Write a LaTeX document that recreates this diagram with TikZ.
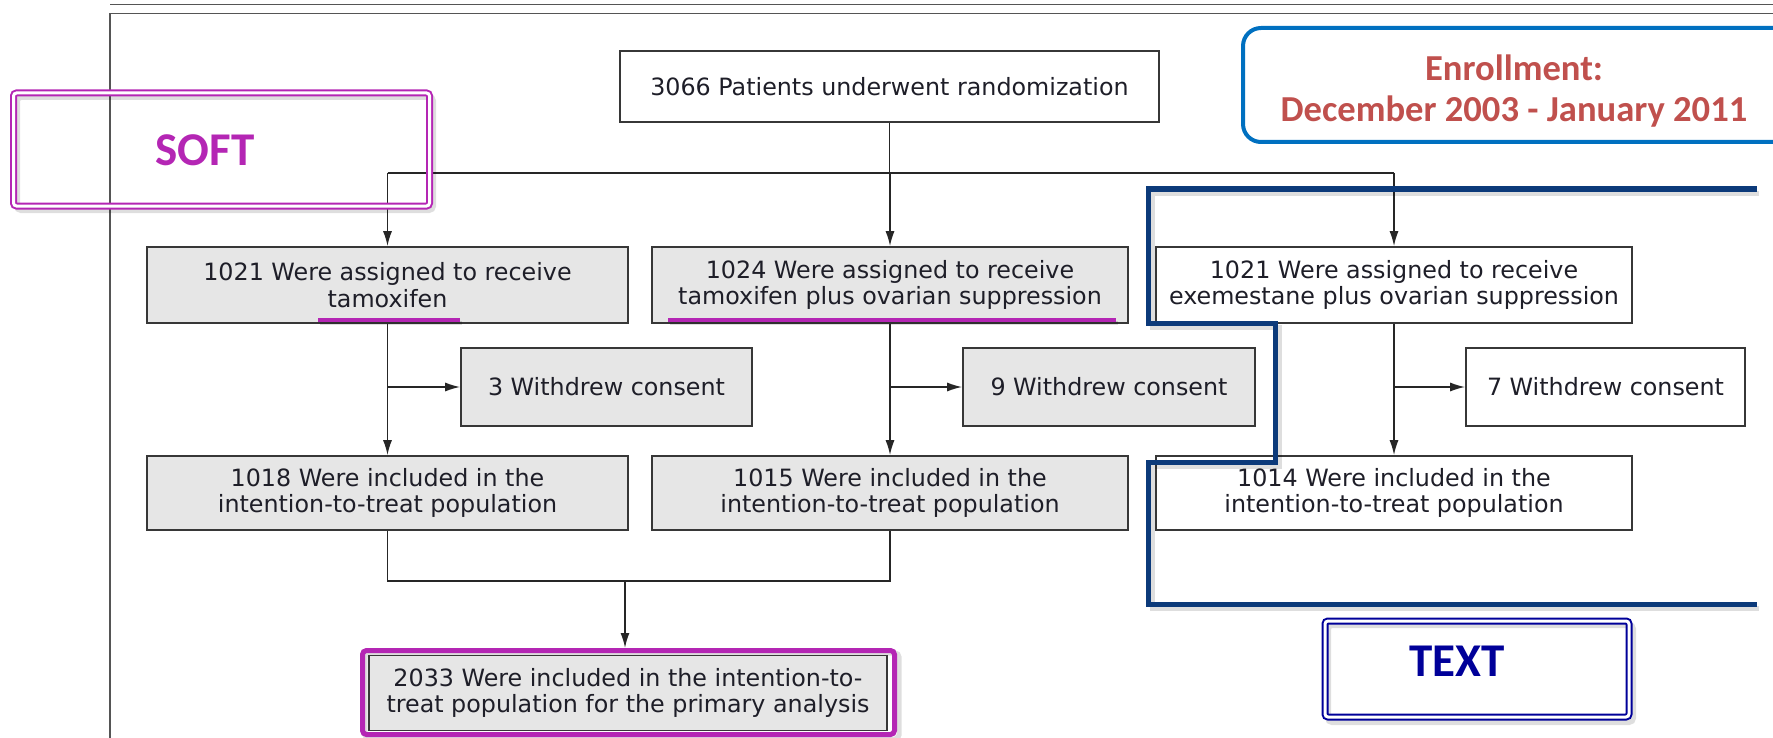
\documentclass[tikz,border=0pt]{standalone}
\usepackage{fontspec}
\setmainfont{DejaVu Sans}
\newfontfamily\calib{Carlito}
\usetikzlibrary{arrows.meta,calc}
\definecolor{boxgray}{RGB}{230,230,230}
\definecolor{boxline}{RGB}{55,55,55}
\definecolor{txt}{RGB}{30,30,40}
\definecolor{softc}{RGB}{180,38,180}
\definecolor{enrred}{RGB}{192,80,77}
\definecolor{enrblue}{RGB}{0,112,192}
\definecolor{navy}{RGB}{12,58,122}
\definecolor{textblue}{RGB}{0,0,153}
\definecolor{framec}{RGB}{85,85,85}
\begin{document}
\begin{tikzpicture}[x=0.5pt,y=-0.5pt,
  box/.style={draw=boxline, line width=0.8pt, align=center, inner sep=0pt, text=txt,
    font=\fontsize{11.9}{13.4}\selectfont, minimum height=38pt},
  gbox/.style={box, fill=boxgray},
  conn/.style={draw=black!85, line width=0.8pt},
  arr/.style={conn, -{Latex[length=7.5pt,width=4.5pt]}},
  uline/.style={draw=softc, line width=2pt},
  shad/.style={draw=black, opacity=0.13},
  bigsoft/.style={font=\calib\bfseries\fontsize{23.5}{26}\selectfont},
  dblbox/.style={double=white, double distance=1.5pt, line width=1pt, rounded corners=1.5pt, inner sep=0pt}
]
\useasboundingbox (0,0) rectangle (1773,738);
\clip (0,0) rectangle (1773,738);
% frame
\draw[framec, line width=0.8pt] (110,4.5) -- (1773,4.5);
\draw[framec, line width=0.8pt] (1773,13.5) -- (110,13.5) -- (110,738);

% boxes
\node[box, minimum width=269.5pt, minimum height=35.5pt] (top) at (889.5,86.5) {3066 Patients underwent randomization};
\node[gbox, minimum width=240.5pt] (A) at (387.5,285) {1021 Were assigned to receive\\tamoxifen};
\node[gbox, minimum width=238pt] (B) at (890,285) {1024 Were assigned to receive\\tamoxifen plus ovarian suppression};
\node[box, fill=white, minimum width=238pt] (C) at (1394,285) {1021 Were assigned to receive\\exemestane plus ovarian suppression};
\node[gbox, minimum width=145.5pt, minimum height=39pt] (WA) at (606.5,387) {3 Withdrew consent};
\node[gbox, minimum width=146pt, minimum height=39pt] (WB) at (1109,387) {9 Withdrew consent};
\node[box, fill=white, minimum width=139.5pt, minimum height=39pt] (WC) at (1605.5,387) {7 Withdrew consent};
\node[gbox, minimum width=240.5pt, minimum height=37pt] (IA) at (387.5,493) {1018 Were included in the\\intention-to-treat population};
\node[gbox, minimum width=238pt, minimum height=37pt] (IB) at (890,493) {1015 Were included in the\\intention-to-treat population};
\node[box, fill=white, minimum width=238pt, minimum height=37pt] (IC) at (1394,493) {1014 Were included in the\\intention-to-treat population};
\draw[shad, line width=2.5pt, rounded corners=2pt] (365,653) rectangle (899,739);
\node[draw=softc, line width=2.5pt, rounded corners=2pt, minimum width=266pt, minimum height=42pt, inner sep=0pt] (finHL) at (628.5,692.5) {};
\node[gbox, minimum width=259pt, minimum height=37.5pt] (fin) at (628,693) {2033 Were included in the intention-to-\\treat population for the primary analysis};

% underlines
\draw[shad, line width=2pt] ($(A.south west)+(174,-1)$) -- ($(A.south west)+(316,-1)$);
\draw[shad, line width=2pt] ($(B.south west)+(19,-1)$) -- ($(B.south west)+(467,-1)$);
\draw[uline] ($(A.south west)+(172,-4)$) -- ($(A.south west)+(314,-4)$);
\draw[uline] ($(B.south west)+(17,-4)$) -- ($(B.south west)+(465,-4)$);

% connectors
\coordinate (brY) at (0,173);
\draw[conn] (top.south) -- (top.south |- brY);
\draw[conn] (A.north |- brY) -- (C.north |- brY);
\draw[arr] (A.north |- brY) -- (A.north);
\draw[arr] (B.north |- brY) -- (B.north);
\draw[arr] (C.north |- brY) -- (C.north);
\draw[arr] (A.south) -- (IA.north);
\draw[arr] (B.south) -- (IB.north);
\draw[arr] (C.south) -- (IC.north);
\draw[arr] (A.south |- WA.west) -- (WA.west);
\draw[arr] (B.south |- WB.west) -- (WB.west);
\draw[arr] (C.south |- WC.west) -- (WC.west);
\coordinate (mY) at (0,581);
\draw[conn] (IA.south) -- (IA.south |- mY) -- (IB.south |- mY) -- (IB.south);
\coordinate (mid) at (625,581);
\draw[arr] (mid) -- (mid |- finHL.north);

% SOFT
\draw[shad, line width=3pt, rounded corners=2pt] (17,97) rectangle (433,210);
\node[draw=softc, dblbox, minimum width=208pt, minimum height=56.5pt] (softbox) at (221.5,149.5) {};
\node[bigsoft, text=softc] (softlbl) at (205,150) {SOFT};

% Enrollment
\draw[enrblue, line width=2pt, rounded corners=9pt] (1243,28) rectangle (1830,142);
\node[font=\calib\bfseries\fontsize{18.3}{20.8}\selectfont, text=enrred, align=center] (enr) at (1514,91) {Enrollment:\\December 2003 - January 2011};

% bracket
\draw[shad, line width=2.5pt] (1759,193) -- (1152,193) -- (1152,327) -- (1279,327) -- (1279,466) -- (1152,466) -- (1152,608) -- (1759,608);
\draw[navy, line width=2.5pt] (1757,189) -- (1148,189) -- (1148,323) -- (1275,323) -- (1275,462) -- (1148,462) -- (1148,604) -- (1757,604);

% TEXT
\draw[shad, line width=3pt, rounded corners=2pt] (1328,625) rectangle (1633,722);
\node[draw=textblue, dblbox, minimum width=152pt, minimum height=48pt] (textbox) at (1477,669) {};
\node[bigsoft, text=textblue] (textlbl) at (1457,661) {TEXT};
\end{tikzpicture}
\end{document}
